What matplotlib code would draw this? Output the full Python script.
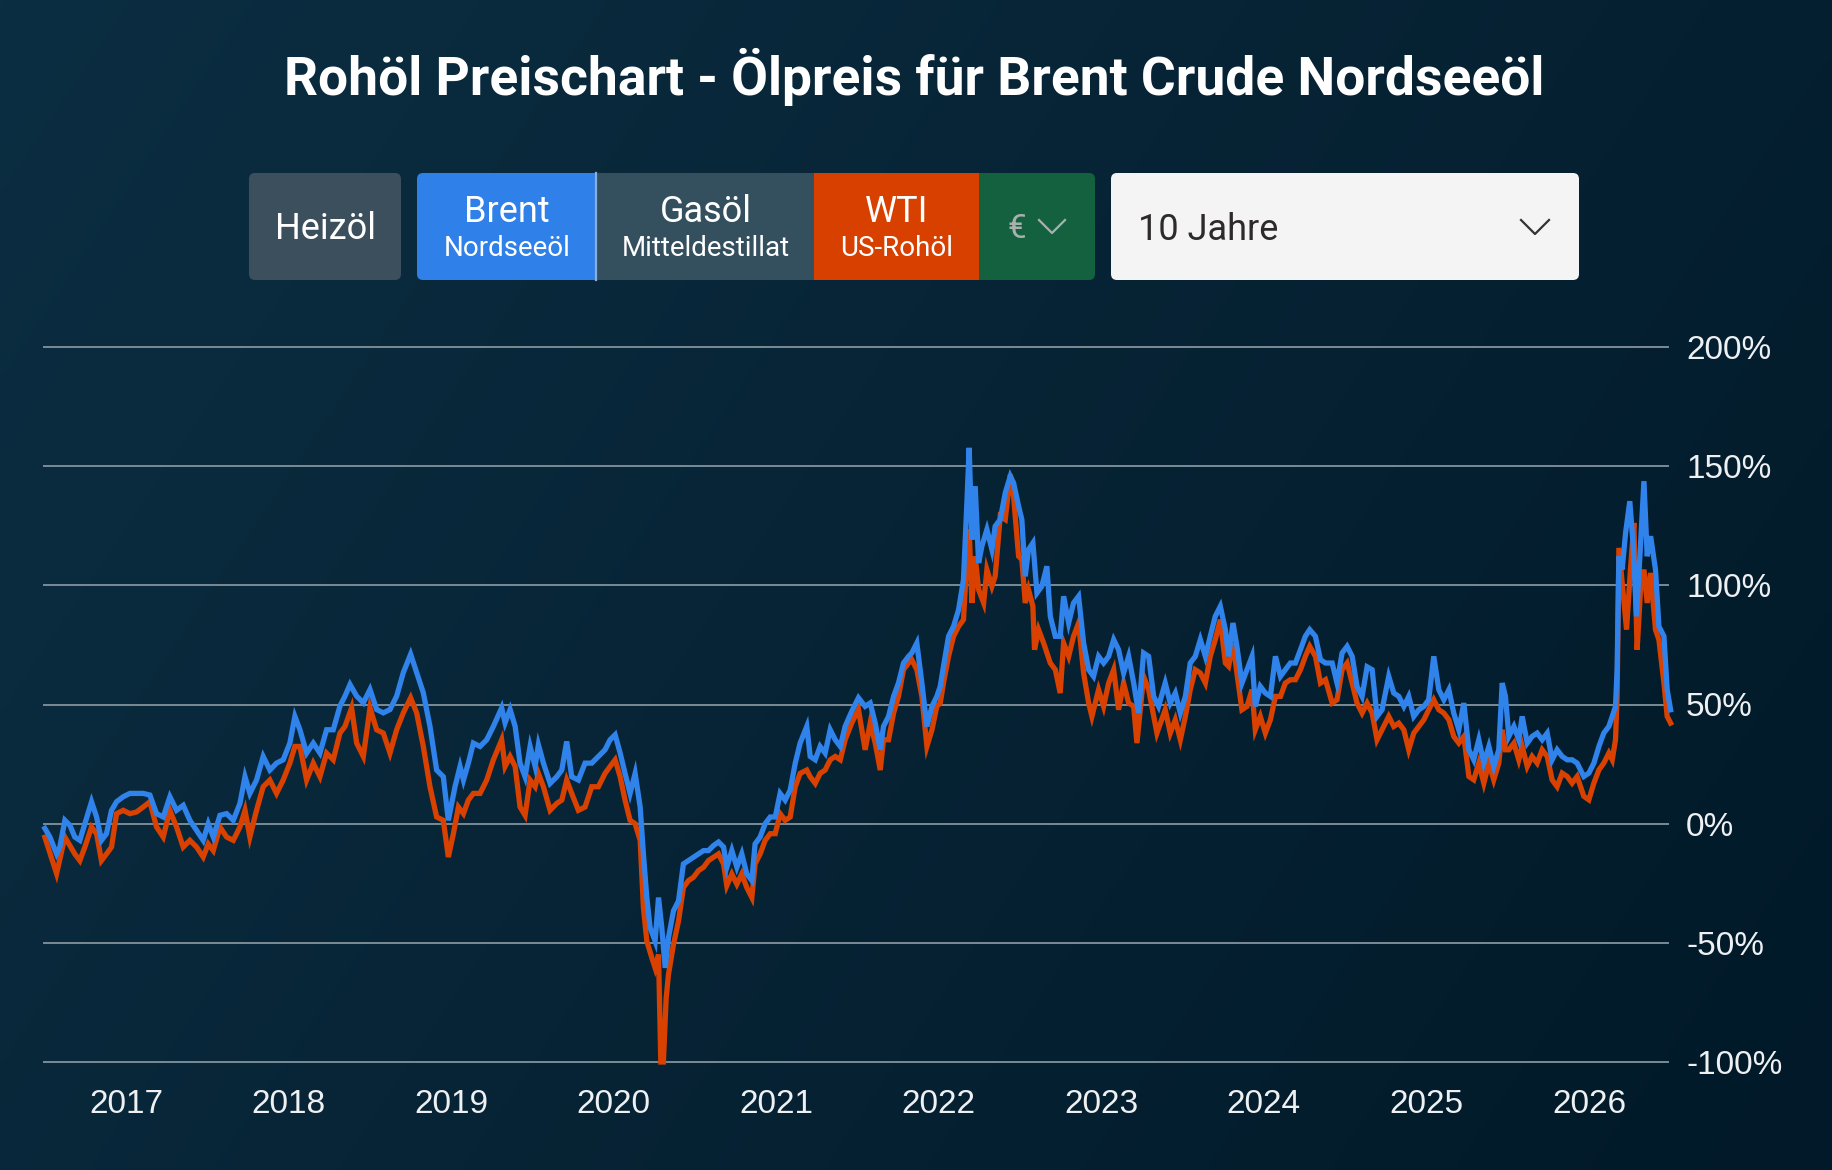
import numpy as np
import matplotlib
matplotlib.use("Agg")
import matplotlib.pyplot as plt
from matplotlib.patches import FancyBboxPatch, Rectangle
from matplotlib.lines import Line2D

# ---------------- data ----------------
title = "Rohöl Preischart - Ölpreis für Brent Crude Nordseeöl"
year_ticks = [2017, 2018, 2019, 2020, 2021, 2022, 2023, 2024, 2025, 2026]
year_labels = [str(y) for y in year_ticks]
pct_ticks = [-100, -50, 0, 50, 100, 150, 200]
pct_labels = ["-100%", "-50%", "0%", "50%", "100%", "150%", "200%"]

buttons = ["Heizöl", "Brent", "Gasöl", "WTI"]
button_sub = ["", "Nordseeöl", "Mitteldestillat", "US-Rohöl"]
currency = "€"
period = "10 Jahre"

brent_dates = [
    2016.501, 2016.532, 2016.573, 2016.593, 2016.624, 2016.655, 2016.685, 2016.716, 2016.747, 2016.788,
    2016.819, 2016.849, 2016.880, 2016.911, 2016.942, 2016.983, 2017.024, 2017.065, 2017.106, 2017.147,
    2017.188, 2017.229, 2017.270, 2017.311, 2017.352, 2017.393, 2017.434, 2017.475, 2017.506, 2017.537,
    2017.578, 2017.619, 2017.660, 2017.701, 2017.732, 2017.762, 2017.803, 2017.844, 2017.885, 2017.926,
    2017.967, 2018.008, 2018.039, 2018.070, 2018.111, 2018.152, 2018.193, 2018.234, 2018.275, 2018.316,
    2018.347, 2018.378, 2018.419, 2018.460, 2018.501, 2018.542, 2018.583, 2018.624, 2018.665, 2018.706,
    2018.751, 2018.788, 2018.829, 2018.870, 2018.911, 2018.952, 2018.983, 2019.024, 2019.055, 2019.076,
    2019.106, 2019.137, 2019.178, 2019.219, 2019.260, 2019.311, 2019.332, 2019.363, 2019.394, 2019.424,
    2019.455, 2019.486, 2019.517, 2019.537, 2019.568, 2019.609, 2019.650, 2019.681, 2019.711, 2019.742,
    2019.783, 2019.824, 2019.865, 2019.906, 2019.947, 2019.978, 2020.009, 2020.040, 2020.070, 2020.101,
    2020.132, 2020.163, 2020.183, 2020.204, 2020.224, 2020.255, 2020.276, 2020.296, 2020.317, 2020.337,
    2020.368, 2020.399, 2020.429, 2020.460, 2020.491, 2020.522, 2020.553, 2020.583, 2020.614, 2020.645,
    2020.676, 2020.696, 2020.727, 2020.758, 2020.788, 2020.819, 2020.850, 2020.870, 2020.901, 2020.932,
    2020.963, 2020.994, 2021.024, 2021.055, 2021.086, 2021.117, 2021.147, 2021.188, 2021.209, 2021.240,
    2021.270, 2021.301, 2021.332, 2021.363, 2021.394, 2021.424, 2021.465, 2021.506, 2021.547, 2021.578,
    2021.609, 2021.640, 2021.660, 2021.691, 2021.722, 2021.752, 2021.783, 2021.814, 2021.834, 2021.865,
    2021.896, 2021.927, 2021.958, 2021.988, 2022.009, 2022.029, 2022.060, 2022.091, 2022.122, 2022.152,
    2022.173, 2022.187, 2022.204, 2022.224, 2022.245, 2022.265, 2022.296, 2022.327, 2022.347, 2022.378,
    2022.409, 2022.440, 2022.460, 2022.491, 2022.511, 2022.532, 2022.552, 2022.579, 2022.604, 2022.634,
    2022.665, 2022.686, 2022.717, 2022.747, 2022.768, 2022.799, 2022.829, 2022.860, 2022.891, 2022.922,
    2022.952, 2022.983, 2023.014, 2023.045, 2023.076, 2023.106, 2023.137, 2023.168, 2023.199, 2023.229,
    2023.260, 2023.291, 2023.322, 2023.352, 2023.393, 2023.424, 2023.455, 2023.486, 2023.517, 2023.547,
    2023.578, 2023.609, 2023.640, 2023.670, 2023.701, 2023.732, 2023.763, 2023.783, 2023.810, 2023.834,
    2023.865, 2023.896, 2023.927, 2023.947, 2023.978, 2024.009, 2024.040, 2024.071, 2024.102, 2024.132,
    2024.163, 2024.194, 2024.225, 2024.255, 2024.282, 2024.317, 2024.348, 2024.379, 2024.420, 2024.450,
    2024.481, 2024.512, 2024.543, 2024.573, 2024.604, 2024.635, 2024.666, 2024.696, 2024.727, 2024.768,
    2024.799, 2024.830, 2024.861, 2024.891, 2024.922, 2024.953, 2024.984, 2025.014, 2025.045, 2025.076,
    2025.107, 2025.138, 2025.168, 2025.199, 2025.230, 2025.261, 2025.291, 2025.322, 2025.353, 2025.384,
    2025.414, 2025.445, 2025.466, 2025.486, 2025.507, 2025.538, 2025.568, 2025.589, 2025.620, 2025.650,
    2025.681, 2025.712, 2025.743, 2025.773, 2025.804, 2025.835, 2025.866, 2025.896, 2025.927, 2025.968,
    2025.999, 2026.030, 2026.061, 2026.091, 2026.122, 2026.143, 2026.163, 2026.173, 2026.184, 2026.204,
    2026.225, 2026.251, 2026.272, 2026.292, 2026.313, 2026.338, 2026.358, 2026.379, 2026.409, 2026.430,
    2026.461, 2026.481, 2026.502,
]
brent_pct = [
    -2.0, -5.6, -12.7, -9.8, 1.4, -0.7, -5.6, -7.0, 0.0, 9.2,
    2.8, -7.0, -4.2, 5.6, 9.2, 11.3, 12.7, 12.7, 12.7, 12.0,
    4.2, 2.8, 11.3, 5.6, 7.7, 1.4, -2.8, -7.0, 0.0, -5.6,
    3.5, 4.2, 1.4, 8.5, 19.7, 12.7, 18.3, 28.2, 22.5, 25.4,
    26.8, 33.8, 45.0, 39.4, 29.6, 33.8, 29.6, 39.4, 39.4, 49.3,
    53.5, 58.4, 53.5, 50.7, 56.3, 47.9, 46.5, 47.9, 53.5, 63.4,
    71.1, 63.4, 54.9, 40.8, 22.5, 19.7, 1.4, 15.5, 24.0, 18.3,
    25.4, 33.8, 32.4, 35.2, 40.8, 48.6, 42.3, 47.9, 40.8, 25.4,
    19.7, 32.4, 24.0, 33.1, 25.4, 16.9, 19.7, 22.5, 34.5, 19.7,
    18.3, 25.4, 25.4, 28.2, 31.0, 35.2, 37.3, 29.6, 21.1, 12.7,
    21.1, 7.0, -12.7, -31.0, -43.6, -49.3, -31.0, -43.6, -60.5, -47.9,
    -36.6, -32.4, -16.9, -15.5, -14.1, -12.7, -11.3, -11.3, -9.2, -7.7,
    -9.8, -18.3, -11.3, -18.3, -12.7, -21.1, -23.9, -8.5, -5.6, 0.0,
    2.8, 2.8, 12.7, 9.9, 14.1, 25.4, 33.8, 40.8, 28.2, 26.8,
    32.4, 29.6, 39.4, 35.2, 32.4, 40.8, 47.2, 52.8, 49.2, 50.6,
    42.2, 31.0, 40.8, 45.0, 53.4, 59.0, 67.4, 70.2, 71.6, 75.8,
    59.0, 40.8, 49.2, 53.4, 57.6, 66.0, 78.6, 82.8, 89.8, 102.4,
    134.6, 157.7, 119.2, 141.6, 109.4, 116.4, 123.4, 115.0, 124.8, 127.6,
    138.8, 145.8, 143.0, 133.2, 127.6, 103.8, 115.0, 117.8, 96.8, 99.6,
    108.0, 87.0, 78.6, 78.6, 95.4, 84.2, 92.6, 95.4, 75.8, 64.6,
    61.8, 70.2, 67.4, 70.2, 77.2, 73.0, 63.2, 70.2, 59.0, 46.4,
    71.6, 70.2, 53.4, 49.2, 59.0, 50.6, 54.8, 46.4, 53.4, 67.4,
    70.2, 77.2, 70.2, 78.6, 87.0, 91.2, 81.4, 70.2, 84.2, 74.4,
    59.0, 64.6, 70.2, 49.2, 57.6, 54.8, 53.4, 70.2, 61.8, 64.6,
    67.4, 67.4, 73.0, 78.6, 81.4, 78.6, 68.8, 67.4, 67.4, 59.0,
    71.6, 74.4, 70.2, 57.6, 53.4, 65.8, 64.6, 45.0, 47.8, 61.8,
    54.8, 53.4, 49.2, 53.4, 45.0, 47.8, 49.2, 52.0, 70.2, 56.2,
    52.0, 56.2, 46.4, 39.4, 50.6, 31.0, 26.8, 35.2, 25.4, 32.4,
    24.0, 31.0, 59.0, 53.4, 36.6, 40.8, 35.2, 45.0, 33.8, 36.6,
    38.0, 35.2, 38.0, 26.8, 31.0, 28.2, 26.8, 26.8, 25.4, 19.8,
    21.2, 25.4, 32.4, 38.0, 40.8, 45.0, 49.2, 64.6, 112.2, 106.6,
    122.0, 135.3, 116.4, 87.0, 112.2, 143.7, 112.2, 120.6, 106.6, 82.8,
    78.6, 56.2, 47.8,
]

wti_dates = [
    2016.501, 2016.573, 2016.624, 2016.685, 2016.716, 2016.747, 2016.788, 2016.819, 2016.849, 2016.880,
    2016.911, 2016.942, 2016.983, 2017.024, 2017.065, 2017.106, 2017.147, 2017.188, 2017.229, 2017.270,
    2017.311, 2017.352, 2017.393, 2017.434, 2017.475, 2017.506, 2017.537, 2017.578, 2017.619, 2017.660,
    2017.701, 2017.732, 2017.762, 2017.803, 2017.844, 2017.885, 2017.926, 2017.967, 2018.008, 2018.039,
    2018.070, 2018.111, 2018.152, 2018.193, 2018.234, 2018.275, 2018.316, 2018.347, 2018.388, 2018.419,
    2018.460, 2018.501, 2018.542, 2018.583, 2018.624, 2018.665, 2018.706, 2018.751, 2018.788, 2018.829,
    2018.870, 2018.911, 2018.952, 2018.983, 2019.014, 2019.045, 2019.076, 2019.106, 2019.137, 2019.178,
    2019.219, 2019.260, 2019.311, 2019.332, 2019.363, 2019.394, 2019.424, 2019.455, 2019.486, 2019.517,
    2019.537, 2019.568, 2019.609, 2019.650, 2019.681, 2019.711, 2019.742, 2019.783, 2019.824, 2019.865,
    2019.906, 2019.947, 2019.978, 2020.009, 2020.040, 2020.070, 2020.101, 2020.132, 2020.163, 2020.183,
    2020.204, 2020.235, 2020.255, 2020.276, 2020.290, 2020.306, 2020.323, 2020.337, 2020.368, 2020.399,
    2020.429, 2020.460, 2020.491, 2020.522, 2020.553, 2020.583, 2020.614, 2020.645, 2020.676, 2020.696,
    2020.727, 2020.758, 2020.788, 2020.819, 2020.850, 2020.870, 2020.901, 2020.932, 2020.963, 2020.994,
    2021.024, 2021.055, 2021.086, 2021.117, 2021.147, 2021.188, 2021.209, 2021.240, 2021.270, 2021.301,
    2021.332, 2021.363, 2021.394, 2021.424, 2021.465, 2021.506, 2021.547, 2021.578, 2021.609, 2021.640,
    2021.660, 2021.691, 2021.722, 2021.752, 2021.783, 2021.814, 2021.834, 2021.865, 2021.896, 2021.927,
    2021.958, 2021.988, 2022.009, 2022.029, 2022.060, 2022.091, 2022.122, 2022.152, 2022.173, 2022.187,
    2022.204, 2022.224, 2022.245, 2022.276, 2022.296, 2022.327, 2022.347, 2022.378, 2022.409, 2022.440,
    2022.460, 2022.491, 2022.511, 2022.532, 2022.552, 2022.579, 2022.589, 2022.614, 2022.645, 2022.686,
    2022.717, 2022.747, 2022.768, 2022.799, 2022.829, 2022.860, 2022.891, 2022.922, 2022.942, 2022.983,
    2023.014, 2023.045, 2023.076, 2023.106, 2023.137, 2023.168, 2023.199, 2023.219, 2023.260, 2023.291,
    2023.322, 2023.342, 2023.393, 2023.424, 2023.455, 2023.486, 2023.517, 2023.547, 2023.578, 2023.609,
    2023.640, 2023.670, 2023.701, 2023.732, 2023.763, 2023.783, 2023.810, 2023.834, 2023.865, 2023.896,
    2023.927, 2023.947, 2023.978, 2024.009, 2024.040, 2024.071, 2024.102, 2024.132, 2024.163, 2024.194,
    2024.225, 2024.255, 2024.282, 2024.317, 2024.348, 2024.379, 2024.420, 2024.450, 2024.481, 2024.512,
    2024.543, 2024.573, 2024.604, 2024.635, 2024.666, 2024.696, 2024.727, 2024.768, 2024.799, 2024.830,
    2024.861, 2024.891, 2024.922, 2024.953, 2024.984, 2025.014, 2025.045, 2025.076, 2025.107, 2025.138,
    2025.168, 2025.199, 2025.230, 2025.261, 2025.291, 2025.322, 2025.353, 2025.384, 2025.414, 2025.445,
    2025.466, 2025.486, 2025.507, 2025.538, 2025.568, 2025.589, 2025.620, 2025.650, 2025.681, 2025.712,
    2025.743, 2025.773, 2025.804, 2025.835, 2025.866, 2025.896, 2025.927, 2025.968, 2025.999, 2026.030,
    2026.061, 2026.091, 2026.122, 2026.143, 2026.163, 2026.173, 2026.184, 2026.204, 2026.231, 2026.255,
    2026.276, 2026.296, 2026.317, 2026.338, 2026.358, 2026.379, 2026.409, 2026.430, 2026.461, 2026.481,
    2026.502,
]
wti_pct = [
    -5.7, -21.0, -5.6, -12.7, -15.5, -9.8, -1.4, -4.2, -15.5, -12.7,
    -9.8, 4.2, 5.6, 4.2, 4.9, 7.0, 9.2, -1.4, -5.6, 5.6,
    -1.4, -9.8, -7.0, -9.8, -14.0, -8.5, -11.3, -1.4, -5.6, -7.0,
    -1.4, 5.6, -5.6, 5.6, 15.5, 18.3, 12.7, 18.3, 25.4, 32.4,
    32.4, 18.3, 25.4, 19.7, 29.6, 26.8, 38.0, 40.8, 48.6, 33.8,
    28.2, 48.6, 39.4, 38.0, 29.6, 39.4, 46.5, 52.8, 46.5, 32.4,
    15.5, 2.8, 1.4, -14.0, -4.2, 7.0, 4.2, 9.9, 12.7, 12.7,
    18.3, 26.8, 35.2, 24.0, 28.2, 24.0, 7.0, 3.5, 18.3, 15.5,
    21.1, 15.5, 5.6, 8.5, 9.9, 18.3, 12.7, 5.6, 7.0, 15.5,
    15.5, 21.1, 24.0, 26.8, 19.7, 9.9, 1.4, 0.0, -7.0, -35.2,
    -49.3, -56.3, -60.5, -54.9, -100.0, -100.0, -73.2, -63.3, -50.7, -40.8,
    -26.8, -23.9, -22.5, -19.7, -18.3, -15.5, -14.1, -12.7, -16.9, -26.0,
    -21.1, -25.4, -21.1, -26.8, -31.0, -16.9, -12.7, -7.0, -4.2, -4.2,
    4.2, 1.4, 2.8, 15.5, 21.1, 22.5, 19.7, 16.9, 21.1, 22.5,
    26.8, 28.2, 26.8, 35.2, 42.3, 47.9, 31.0, 42.2, 33.8, 22.5,
    35.2, 35.2, 46.4, 53.4, 64.6, 67.4, 68.8, 64.6, 53.4, 32.4,
    39.4, 49.2, 50.6, 59.0, 70.2, 78.6, 82.8, 85.6, 110.8, 123.4,
    92.6, 112.2, 98.2, 92.6, 106.6, 99.6, 103.8, 129.0, 127.6, 146.5,
    137.4, 112.2, 110.8, 92.6, 98.2, 91.2, 73.0, 81.4, 75.8, 67.4,
    64.6, 54.8, 75.8, 70.2, 78.6, 84.2, 63.2, 50.6, 45.0, 56.2,
    49.2, 59.0, 64.6, 47.8, 59.0, 50.6, 49.2, 33.8, 61.8, 56.2,
    45.0, 38.0, 47.8, 38.0, 43.6, 35.2, 45.0, 56.2, 64.6, 63.2,
    59.0, 70.2, 77.2, 85.6, 67.4, 66.0, 75.8, 63.2, 47.8, 49.2,
    56.2, 39.4, 45.0, 38.0, 43.6, 53.4, 53.4, 59.0, 60.4, 60.4,
    64.6, 70.2, 74.4, 70.2, 59.0, 60.4, 50.6, 52.0, 64.6, 67.4,
    59.0, 50.6, 46.4, 50.6, 46.4, 35.2, 39.4, 45.0, 40.8, 42.2,
    39.4, 31.0, 38.0, 40.8, 43.6, 47.8, 52.0, 47.8, 46.4, 43.6,
    36.6, 33.8, 36.6, 19.8, 18.4, 25.4, 17.0, 25.4, 18.4, 25.4,
    39.4, 31.0, 31.0, 33.8, 26.8, 32.4, 24.0, 28.2, 25.4, 31.0,
    28.2, 18.4, 15.5, 21.2, 19.8, 17.0, 19.8, 11.5, 10.0, 17.0,
    22.6, 25.4, 29.6, 26.8, 35.2, 53.4, 115.7, 101.0, 81.4, 106.6,
    126.2, 73.0, 98.2, 106.6, 92.6, 105.2, 81.4, 77.2, 59.0, 45.0,
    42.2,
]

# ---------------- styles ----------------
W, H = 1832, 1170
BRENT_C = "#3083ea"
WTI_C = "#d94100"
GRID_C = "#7b8b95"
TXT_C = "#eef0f2"
plt.rcParams['font.family'] = ['Roboto', 'DejaVu Sans']

fig = plt.figure(figsize=(W / 100, H / 100), dpi=100)

# background / header layer in pixel coordinates
bg = fig.add_axes([0, 0, 1, 1])
bg.set_xlim(0, W)
bg.set_ylim(H, 0)
bg.axis('off')
gx, gy = np.meshgrid(np.linspace(0, 1, 240), np.linspace(0, 1, 160))
s = 0.7 * gx + 0.3 * gy
c0 = np.array([12, 46, 66]) / 255
c1 = np.array([1, 25, 40]) / 255
img = c0[None, None, :] * (1 - s[..., None]) + c1[None, None, :] * s[..., None]
bg.imshow(img, extent=[0, W, H, 0], aspect='auto', interpolation='bilinear', zorder=0)

bg.text(914, 95, title, ha='center', va='baseline', fontsize=38.4,
        fontweight='bold', color='white', family=['Roboto', 'DejaVu Sans'], zorder=5)

top, bot = 173, 280
hgt = bot - top
def rbox(x0, x1, color, r=6, z=2):
    bg.add_patch(FancyBboxPatch((x0, top), x1 - x0, hgt,
                                boxstyle=f"round,pad=0,rounding_size={r}",
                                fc=color, ec='none', zorder=z))
def sbox(x0, x1, color, z=3):
    bg.add_patch(Rectangle((x0, top), x1 - x0, hgt, fc=color, ec='none', zorder=z))

rbox(249, 401, "#3b4f5c")
rbox(417, 596, "#2f80e8")
sbox(560, 596, "#2f80e8")
sbox(596, 814, "#34505e")
sbox(814, 979, "#d84000")
rbox(979, 1095, "#14613f")
sbox(979, 1010, "#14613f")
bg.add_line(Line2D([596, 596], [top, bot], color="#86aee0", lw=1.6, zorder=4))
rbox(1111, 1579, "#f4f4f4")

bg.text(325, 239, buttons[0], ha='center', va='baseline', fontsize=26, color='white', zorder=5)
for lab, sub, cx in zip(buttons[1:], button_sub[1:], [507, 706, 897]):
    bg.text(cx, 222, lab, ha='center', va='baseline', fontsize=26, color='white', zorder=5)
    bg.text(cx, 256, sub, ha='center', va='baseline', fontsize=20, color='white', zorder=5)
bg.text(1017, 238, currency, ha='center', va='baseline', fontsize=24, color='#a9b1ae', zorder=5)
bg.add_line(Line2D([1039, 1052, 1065], [220, 233, 220], color='#a9b1ae', lw=1.6, zorder=5))
bg.text(1138, 240, period, ha='left', va='baseline', fontsize=26, color='#2e2a2b', zorder=5)
bg.add_line(Line2D([1521, 1535, 1549], [220, 234, 220], color='#333333', lw=1.6, zorder=5))

# chart
ax = fig.add_axes([44 / W, 1 - 1062 / H, 1624 / W, 715 / H])
ax.patch.set_alpha(0)
ax.set_xlim(2016.4956, 2026.486)
ax.set_ylim(-100, 200)
for sp in ax.spines.values():
    sp.set_visible(False)
ax.set_yticks(pct_ticks)
ax.set_yticklabels(pct_labels)
ax.set_xticks(year_ticks)
ax.set_xticklabels(year_labels)
ax.yaxis.tick_right()
ax.grid(axis='y', color=GRID_C, lw=1.4)
ax.grid(axis='x', visible=False)
for gl in ax.get_ygridlines():
    gl.set_clip_on(False)
ax.tick_params(axis='y', length=0, pad=13, labelsize=24, labelcolor=TXT_C)
ax.tick_params(axis='x', length=0, pad=19.5, labelsize=24, labelcolor=TXT_C)
for t in ax.get_xticklabels() + ax.get_yticklabels():
    t.set_family(['Liberation Sans', 'DejaVu Sans'])

ax.plot(wti_dates, wti_pct, color=WTI_C, lw=3.8, solid_joinstyle='miter', zorder=3, clip_on=False)
ax.plot(brent_dates, brent_pct, color=BRENT_C, lw=3.8, solid_joinstyle='miter', zorder=4, clip_on=False)

fig.savefig("out.png", dpi=100)
